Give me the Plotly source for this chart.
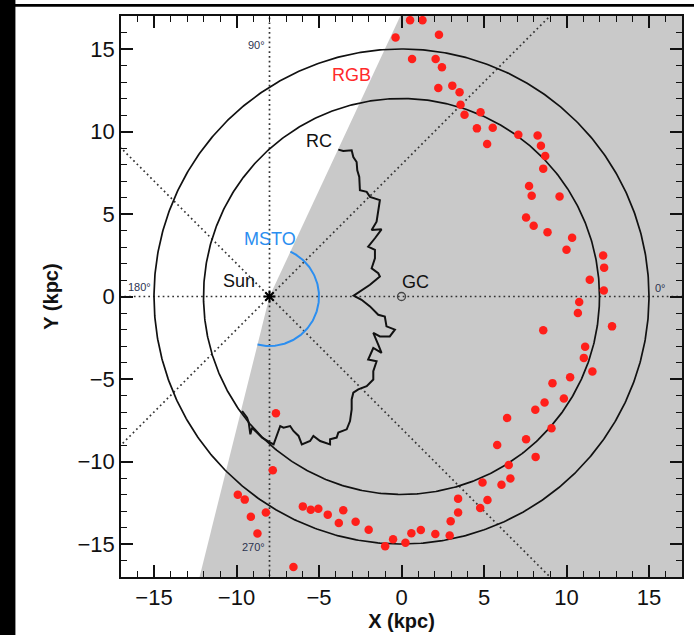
import numpy as np
import plotly.graph_objects as go

# ---- data (kpc, Galactocentric X/Y) ----
sun_x, sun_y = [-8.0], [0.0]
gc_x, gc_y = [0.0], [0.0]
ring_radii = [12.0, 15.0]           # reference rings around the GC
msto_radius = 3.0                   # MSTO reach around the Sun
wedge_lon = [-104.0, 65.0]          # longitude limits of the shaded footprint (deg)
sightline_lon = [0.0, 45.0, 90.0, 135.0]

# RC extent (outline)
rc_x = [-3.83, -3.53, -3.02, -2.92, -2.72, -2.68, -2.56, -2.52, -2.11, -1.91,
        -1.31, -1.41, -1.51, -1.81, -1.21, -1.61, -2.02, -1.61, -1.61, -1.81,
        -1.41, -1.31, -1.91, -2.90, -2.42, -1.91, -1.41, -1.01, -0.91, -0.40,
        -0.71, -1.31, -1.71, -1.41, -1.21, -1.71, -2.02, -1.51, -1.71, -1.71,
        -2.11, -2.62, -2.92, -3.02, -3.02, -3.12, -3.32, -3.83, -3.93, -4.33,
        -4.33, -4.93, -5.34, -5.54, -6.04, -6.24, -6.55, -6.75, -7.15, -7.35,
        -7.55, -7.75, -7.95, -8.45, -8.76, -9.06, -9.16, -9.26, -9.36, -9.66]
rc_y = [8.90, 8.82, 8.86, 8.45, 8.15, 7.65, 7.25, 6.44, 6.34, 6.04,
        5.84, 5.13, 4.53, 4.03, 4.07, 3.53, 3.02, 2.82, 2.32, 1.71,
        1.41, 1.21, 0.71, 0.05, -0.20, -0.60, -1.11, -1.21, -1.81, -2.01,
        -2.42, -2.42, -2.21, -2.92, -3.42, -3.12, -3.82, -3.93, -4.53, -5.03,
        -5.43, -5.63, -5.83, -6.24, -6.84, -7.55, -8.05, -8.25, -8.55, -8.65,
        -8.96, -8.76, -8.45, -8.76, -8.96, -8.45, -8.15, -7.85, -7.95, -7.85,
        -8.45, -8.96, -8.85, -8.55, -8.25, -7.95, -8.35, -7.64, -7.34, -6.94]

# RGB fields
rgb_x = [0.52, 1.27, -0.36, 2.27, 0.64, 2.07, 2.45, 2.23, 3.08, 3.52,
         3.58, 3.82, 4.79, 4.57, 5.53, 5.19, 7.08, 8.25, 8.45, 8.71,
         8.59, 7.73, 7.89, 9.58, 7.55, 8.01, 8.85, 10.34, 10.00, 12.22,
         12.28, 11.41, 12.26, 10.77, 10.69, 12.76, 8.59, 11.13, 11.05, 11.57,
         10.22, 9.15, 9.84, 8.67, 8.11, 6.40, 9.09, 7.55, 5.80, 8.13,
         6.50, 4.91, 6.06, 6.60, 5.21, 4.77, 3.43, 3.43, 2.98, 2.92,
         2.05, 1.17, 0.60, 0.24, -0.51, -0.99, -1.99, -2.78, -3.80, -3.53,
         -4.47, -5.04, -5.50, -5.98, -6.55, -7.61, -7.80, -9.92, -9.50, -9.13,
         -8.22, -8.73]
rgb_y = [16.75, 16.75, 15.70, 15.86, 14.40, 14.40, 13.89, 12.64, 12.78, 12.38,
         11.62, 11.01, 11.17, 10.19, 10.23, 9.24, 9.81, 9.76, 9.14, 8.51,
         7.75, 6.70, 6.10, 6.06, 4.79, 4.29, 3.89, 3.56, 2.84, 2.48,
         1.75, 1.01, 0.36, -0.34, -1.00, -1.81, -2.05, -3.04, -3.72, -4.55,
         -4.89, -5.25, -6.18, -6.42, -6.86, -7.36, -7.99, -8.65, -9.00, -9.72,
         -10.21, -11.27, -11.41, -11.03, -12.34, -12.82, -12.25, -13.09, -13.62, -14.49,
         -14.39, -14.15, -14.35, -14.93, -14.71, -15.13, -14.13, -13.65, -13.73, -12.96,
         -13.22, -12.86, -12.92, -12.72, -16.40, -7.07, -10.53, -12.02, -12.31, -13.35,
         -13.09, -14.36]

# longitude labels around the Sun
lon_text = ["0°", "90°", "180°", "270°"]
lon_x = [15.7, -8.81, -15.9, -8.96]
lon_y = [0.53, 15.27, 0.56, -15.19]

AX = [-17, 17]
FONT = "Liberation Sans, Arial, Helvetica, sans-serif"

fig = go.Figure()

# shaded footprint: wedge from the Sun, long enough to leave the axes
far = 60.0
a0, a1 = np.radians(wedge_lon)
ang = np.linspace(a0, a1, 200)
wx = np.concatenate([[sun_x[0]], sun_x[0] + far * np.cos(ang), [sun_x[0]]])
wy = np.concatenate([[sun_y[0]], sun_y[0] + far * np.sin(ang), [sun_y[0]]])
fig.add_trace(go.Scatter(x=wx, y=wy, mode="lines", fill="toself",
                         fillcolor="#c9c9c9", line=dict(width=0),
                         hoverinfo="skip", showlegend=False))

# sight lines through the Sun
for lon in sightline_lon:
    t = np.radians(lon)
    lx = [sun_x[0] - far * np.cos(t), sun_x[0] + far * np.cos(t)]
    ly = [sun_y[0] - far * np.sin(t), sun_y[0] + far * np.sin(t)]
    fig.add_trace(go.Scatter(x=lx, y=ly, mode="lines",
                             line=dict(color="#333333", width=1.7, dash="1.7px,3.1px"),
                             hoverinfo="skip", showlegend=False))

# Galactocentric rings
th = np.linspace(0, 2 * np.pi, 721)
for r in ring_radii:
    fig.add_trace(go.Scatter(x=gc_x[0] + r * np.cos(th), y=gc_y[0] + r * np.sin(th),
                             mode="lines", line=dict(color="#111111", width=1.7),
                             hoverinfo="skip", showlegend=False))

# RC outline
fig.add_trace(go.Scatter(x=rc_x, y=rc_y, mode="lines",
                         line=dict(color="#111111", width=2),
                         hoverinfo="skip", showlegend=False))

# MSTO arc
arc = np.radians(np.linspace(wedge_lon[0], wedge_lon[1], 200))
fig.add_trace(go.Scatter(x=sun_x[0] + msto_radius * np.cos(arc),
                         y=sun_y[0] + msto_radius * np.sin(arc),
                         mode="lines", line=dict(color="#2b8ef0", width=2),
                         hoverinfo="skip", showlegend=False))

# RGB fields
fig.add_trace(go.Scatter(x=rgb_x, y=rgb_y, mode="markers",
                         marker=dict(color="#ff1f1a", size=8.5, line=dict(width=0)),
                         showlegend=False))

# Sun and GC
fig.add_trace(go.Scatter(x=sun_x, y=sun_y, mode="markers",
                         marker=dict(symbol="asterisk-open", size=10, color="black",
                                     line=dict(color="black", width=2)),
                         showlegend=False))
fig.add_trace(go.Scatter(x=gc_x, y=gc_y, mode="markers",
                         marker=dict(symbol="circle-open", size=8, color="#444444",
                                     line=dict(color="#444444", width=1.3)),
                         showlegend=False))

# region labels
labels = [("RGB", -3.02, 13.44, "#ff2a2a"),
          ("RC", -5.01, 9.42, "#111111"),
          ("MSTO", -7.95, 3.47, "#2b8ef0"),
          ("Sun", -9.87, 0.91, "#111111"),
          ("GC", 0.86, 0.86, "#111111")]
for txt, x, y, c in labels:
    fig.add_annotation(x=x, y=y, text=txt, showarrow=False,
                       font=dict(family=FONT, size=18, color=c))

for txt, x, y in zip(lon_text, lon_x, lon_y):
    fig.add_annotation(x=x, y=y, text=txt, showarrow=False,
                       font=dict(family=FONT, size=11, color="#2c3350"))

axis_common = dict(
    range=AX, showgrid=False, zeroline=False,
    showline=True, linecolor="#111111", linewidth=1.5, mirror="allticks",
    ticks="inside", ticklen=12, tickwidth=1.5, tickcolor="#111111",
    tick0=0, dtick=5,
    minor=dict(ticks="inside", ticklen=6, tickwidth=1.2, tickcolor="#111111", dtick=1),
    tickfont=dict(family=FONT, size=22, color="#111111"),
)
fig.update_xaxes(**axis_common,
                 title=dict(text="<b>X (kpc)</b>", standoff=4,
                            font=dict(family=FONT, size=20, color="#111111")))
fig.update_yaxes(**axis_common,
                 title=dict(text="<b>Y (kpc)</b>", standoff=14,
                            font=dict(family=FONT, size=20, color="#111111")))

# frame edges around the figure
fig.add_shape(type="rect", xref="paper", yref="paper",
              x0=-0.2160, x1=-0.1882, y0=-0.11, y1=1.035,
              fillcolor="black", line=dict(width=0), layer="above")
fig.add_shape(type="rect", xref="paper", yref="paper",
              x0=-0.19, x1=1.03, y0=1.0166, y1=1.0214,
              fillcolor="black", line=dict(width=0), layer="above")

fig.update_layout(
    width=694, height=635,
    margin=dict(l=121, r=12.3, t=16, b=58.3, autoexpand=False),
    paper_bgcolor="white", plot_bgcolor="white",
    showlegend=False,
)

fig.write_html("out.html")
